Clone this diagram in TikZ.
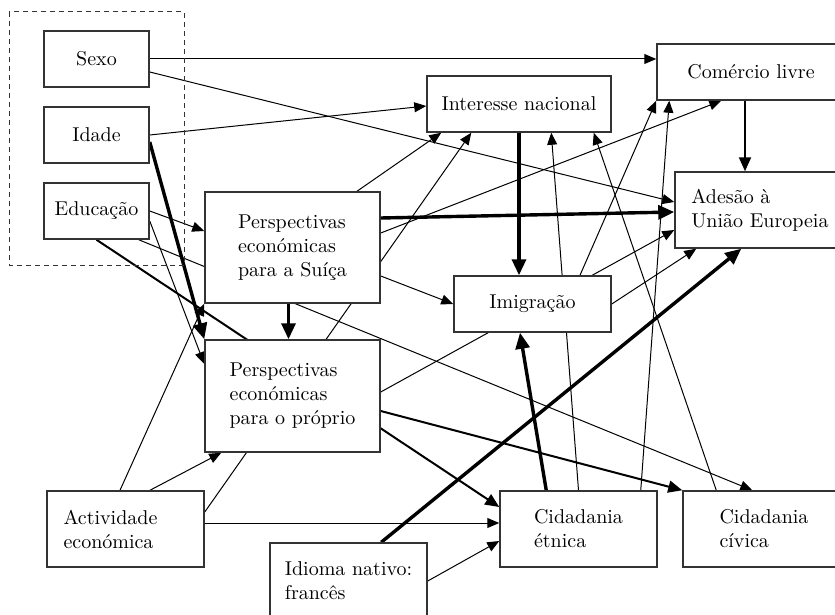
\documentclass[tikz,border=0pt]{standalone}
\usetikzlibrary{arrows.meta,calc,backgrounds}
\begin{document}
\begin{tikzpicture}[x=0.5pt, y=-0.5pt,
  box/.style={draw=black!80, fill=white, line width=0.75pt, inner sep=0pt, align=left, font=\fontsize{10}{12}\selectfont},
  lnk/.style={line width=0.5pt, -{Triangle[length=6pt,width=5pt]}},
  lnkm/.style={line width=1pt, -{Triangle[length=7pt,width=6pt]}},
  lnkb/.style={line width=1.7pt, -{Triangle[length=8pt,width=7pt]}}]
\useasboundingbox (0,0) rectangle (835,615);
\draw[black!80, line width=0.5pt, dash pattern=on 2.5pt off 2pt] (9,12) rectangle (184,265);

\node[box, minimum width=52.5pt, minimum height=28pt] (sexo) at (96.5,59) {Sexo};
\node[box, minimum width=52.5pt, minimum height=28pt] (idade) at (96.5,135) {Idade};
\node[box, minimum width=52.5pt, minimum height=28pt] (educ) at (96.5,211) {Educação};
\node[box, minimum width=87.5pt, minimum height=55.5pt] (pes) at (292.5,247.5) {Perspectivas\\económicas\\para a Suíça};
\node[box, minimum width=87.5pt, minimum height=56pt] (pep) at (292.5,396) {Perspectivas\\económicas\\para o próprio};
\node[box, minimum height=38pt, text width=62pt, inner xsep=8.25pt] (activ) at (125.5,529) {Actividade\\económica};
\node[box, minimum width=78.5pt, minimum height=38pt] (idioma) at (348.5,581) {Idioma nativo:\\francês};
\node[box, minimum width=92pt, minimum height=28pt] (intnac) at (519,104) {Interesse nacional};
\node[box, minimum width=94pt, minimum height=28pt] (comercio) at (751,72) {Comércio livre};
\node[box, minimum width=85pt, minimum height=38pt] (adesao) at (760,210) {Adesão à\\União Europeia};
\node[box, minimum width=78.5pt, minimum height=28pt] (imig) at (532.5,304) {Imigração};
\node[box, minimum width=78.5pt, minimum height=38pt] (cetn) at (578.5,529) {Cidadania\\étnica};
\node[box, minimum width=81pt, minimum height=38pt] (cciv) at (764,529) {Cidadania\\cívica};

\begin{scope}[on background layer]
\draw[lnk] (sexo.east) -- (sexo.east -| comercio.west);
\draw[lnk] ($(sexo.east)+(0,13)$) -- ($(adesao.west)+(0,-8)$);
\draw[lnk] (idade.east) -- ($(intnac.west)+(0,2)$);
\draw[lnkb] ($(idade.east)+(0,7)$) -- (pep.north west);
\draw[lnk] (educ.east) -- ($(pes.west)+(0,-16.5)$);
\draw[lnk] ($(educ.east)+(0,10)$) -- ($(pep.west)+(0,-32)$);
\draw[lnkm] (educ.south) -- ($(cetn.west)+(0,-22)$);
\draw[lnk] ($(educ.south east)+(-11,0)$) -- ($(cciv.north west)+(70,0)$);
\draw[lnk] ($(activ.north)+(-5.5,0)$) -- (pes.south west);
\draw[lnk] ($(activ.north)+(24.5,0)$) -- ($(pep.south west)+(17,0)$);
\draw[lnk] ($(activ.east)+(0,-17)$) -- ($(intnac.south west)+(45,0)$);
\draw[lnk] ($(activ.east)+(0,-6)$) -- ($(cetn.west)+(0,-6)$);
\draw[lnk] ($(pes.north)+(64.5,0)$) -- ($(intnac.south west)+(15,0)$);
\draw[lnk] ($(pes.east)+(0,-14.5)$) -- ($(comercio.south west)+(65,0)$);
\draw[lnkb] ($(pes.east)+(0,-29.5)$) -- ($(adesao.west)+(0,2)$);
\draw[lnk] ($(pes.east)+(0,28.5)$) -- (imig.west);
\draw[lnkb] ($(pes.south)+(-4,0)$) -- ($(pep.north)+(-4,0)$);
\draw[lnk] ($(pep.east)+(0,-4)$) -- ($(adesao.west)+(0,20)$);
\draw[lnkm] ($(pep.east)+(0,15)$) -- (cciv.north west);
\draw[lnkb] (intnac.south) -- (intnac.south |- imig.north);
\draw[lnkm] ($(comercio.south)+(-6,0)$) -- ($(adesao.north)+(-15,0)$);
\draw[lnk] ($(imig.north)+(47.5,0)$) -- (comercio.south west);
\draw[lnk] (imig.east) -- ($(adesao.south west)+(22,0)$);
\draw[lnkb] ($(cetn.north west)+(47,0)$) -- ($(imig.south)+(-12.5,0)$);
\draw[lnk] (cetn.north) -- ($(intnac.south west)+(125,0)$);
\draw[lnk] ($(cetn.north east)+(-17,0)$) -- ($(comercio.south west)+(13,0)$);
\draw[lnk] ($(cciv.north west)+(34,0)$) -- ($(intnac.south east)+(-18,0)$);
\draw[lnkb] ($(idioma.north west)+(112,0)$) -- ($(adesao.south west)+(67,0)$);
\draw[lnk] (idioma.east) -- ($(cetn.west)+(0,12)$);
\end{scope}
\end{tikzpicture}
\end{document}
